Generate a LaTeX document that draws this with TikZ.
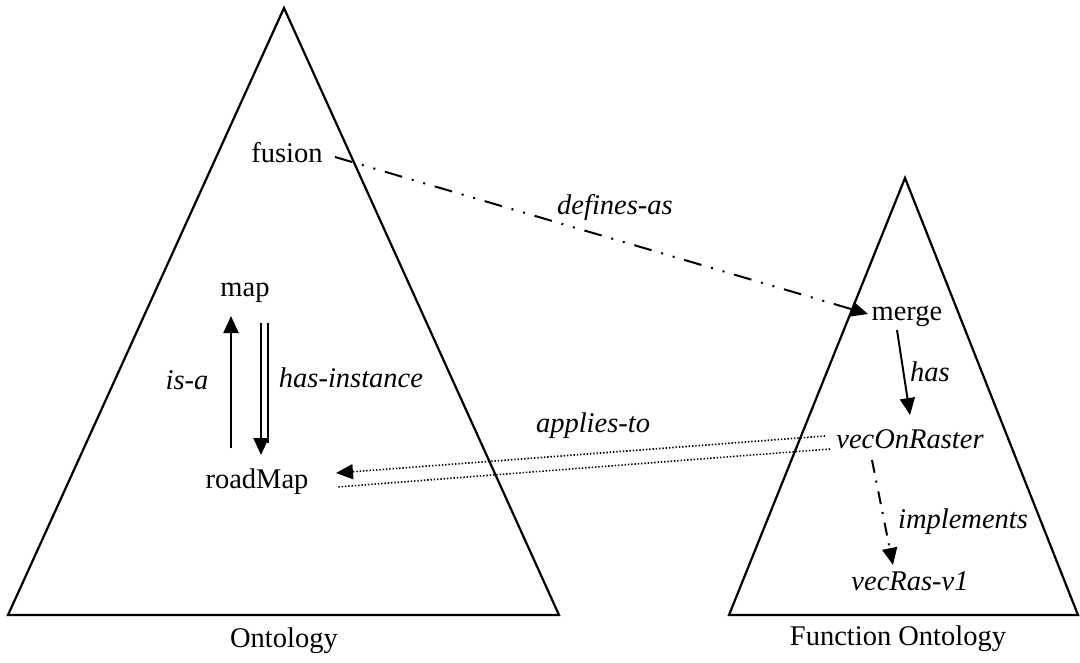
\documentclass[tikz,border=0pt]{standalone}
\usepackage{fontspec}
\setmainfont{Liberation Serif}
\usetikzlibrary{arrows.meta,calc}
\begin{document}
\begin{tikzpicture}[x=1pt,y=-1pt,
  txt/.style={inner sep=0pt, font=\fontsize{28.5}{32}\selectfont},
  lbl/.style={inner sep=0pt, font=\fontsize{28.5}{32}\selectfont\itshape},
  frame/.style={line width=2.2pt, line join=miter},
  tip/.style={-{Triangle[length=17pt,width=15pt]}},
  solidarrow/.style={line width=2pt, tip},
  dashdotdot/.style={line width=2pt, tip,
    dash pattern=on 18pt off 10pt on 2pt off 10pt on 2pt off 10pt},
  dashdot/.style={line width=2pt, tip,
    dash pattern=on 13pt off 8pt on 2pt off 9pt},
  dotline/.style={line width=1.6pt, dash pattern=on 1.4pt off 1.9pt}
]
\useasboundingbox (0,0) rectangle (1080,662);

% the two ontologies
\draw[frame] (284,8) -- (8,615) -- (559,615) -- cycle;
\draw[frame] (905,178) -- (729,615) -- (1078,615) -- cycle;

% concepts
\node[txt] (fusion) at (287,153) {fusion};
\node[txt] (map) at (245,293) {map};
\node[txt] (roadMap) at (257,482) {roadMap};
\node[txt] (merge) at (907,316) {merge};
\node[lbl] (vecOnRaster) at (910,439) {vecOnRaster};
\node[lbl] (vecRas) at (910,581) {vecRas-v1};

% captions
\node[txt] (ontoCap) at (284,641) {Ontology};
\node[txt] (funcCap) at (898,639) {Function Ontology};

% relation labels
\node[lbl] (lDefines) at (615,207) {defines-as};
\node[lbl] (lIsa) at (187,380) {is-a};
\node[lbl] (lHasInst) at (351,378) {has-instance};
\node[lbl] (lApplies) at (593,426) {applies-to};
\node[lbl] (lHas) at (930,372) {has};
\node[lbl] (lImpl) at (963,522) {implements};

% is-a
\draw[solidarrow] ($(roadMap)+(-26,-34)$) -- ($(map)+(-14,23)$);
% has-instance (double line)
\draw[solidarrow] ($(map)+(16,30)$) -- ($(roadMap)+(4,-27)$);
\draw[line width=2pt] ($(map)+(23,30)$) -- ($(roadMap)+(11,-39)$);
% defines-as
\draw[dashdotdot] ($(fusion)+(48,4)$) -- ($(merge)+(-39,-2)$);
% has
\draw[solidarrow] ($(merge)+(-10,14)$) -- ($(vecOnRaster)+(0,-24)$);
% applies-to (double dotted line)
\draw[dotline, tip] ($(vecOnRaster)+(-85,-3)$) -- ($(roadMap)+(79,-9)$);
\draw[dotline] ($(vecOnRaster)+(-80,10)$) -- ($(roadMap)+(80,5)$);
% implements
\draw[dashdot] ($(vecOnRaster)+(-38,21)$) -- ($(vecRas)+(-17,-16)$);
\end{tikzpicture}
\end{document}
